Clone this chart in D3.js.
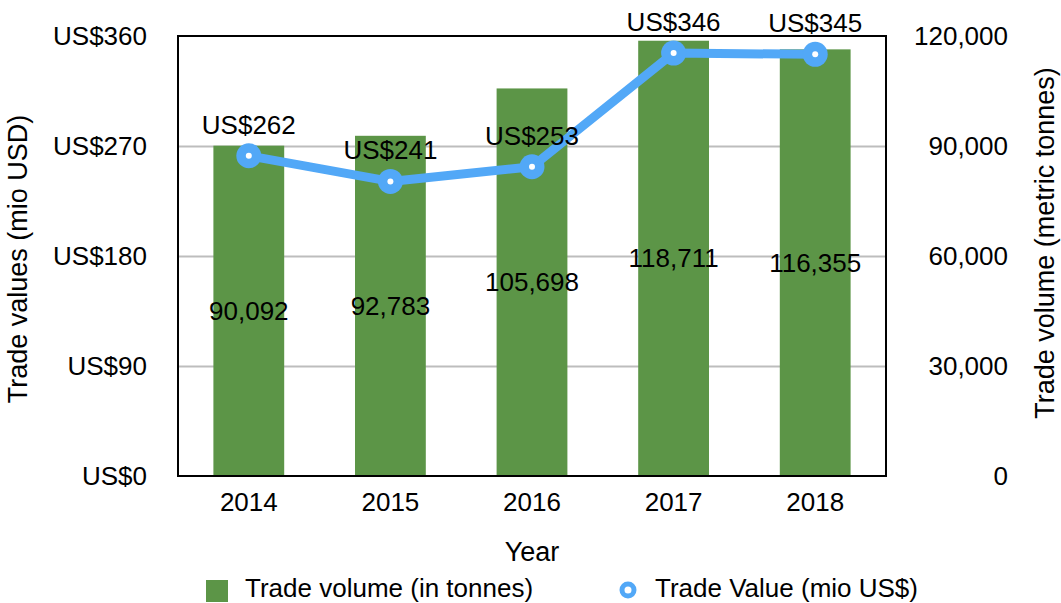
<!DOCTYPE html>
<html lang="en">
<head>
    <meta charset="UTF-8">
    <title>Trade volume and value</title>
    <script src="https://d3js.org/d3.v7.min.js"></script>
    <style>
        body {
            margin: 0;
            padding: 0;
            background: #fff;
            font-family: "Liberation Sans", Arial, Helvetica, sans-serif;
        }
        svg text {
            font-family: "Liberation Sans", Arial, Helvetica, sans-serif;
            fill: #000;
        }
    </style>
</head>
<body>
<div id="chart"></div>
<script>
    // data
    const years = ["2014", "2015", "2016", "2017", "2018"];
    const volumes = [90092, 92783, 105698, 118711, 116355];   // tonnes (bars)
    const values = [262, 241, 253, 346, 345];                  // mio US$ (line)
    const leftTicks = [0, 90, 180, 270, 360];
    const rightTicks = [0, 30000, 60000, 90000, 120000];

    const W = 1061, H = 603;
    const margin = {top: 36, right: 175, bottom: 127, left: 178};
    const plotW = W - margin.left - margin.right,
          plotH = H - margin.top - margin.bottom;

    const green = "#5c9547", blue = "#52a8f7", grid = "#bdbdbd";
    const fontSize = 26;

    const svg = d3.select("#chart").append("svg")
        .attr("width", W)
        .attr("height", H);

    const g = svg.append("g")
        .attr("transform", `translate(${margin.left},${margin.top})`);

    const x = d3.scaleBand()
        .domain(years)
        .range([0, plotW])
        .paddingInner(0.5)
        .paddingOuter(0.25);

    const yL = d3.scaleLinear().domain([0, 360]).range([plotH, 0]);
    const yR = d3.scaleLinear().domain([0, 120000]).range([plotH, 0]);

    // gridlines
    g.append("g")
        .call(d3.axisLeft(yL).tickValues(leftTicks.slice(1, -1)).tickSize(-plotW).tickFormat(""))
        .call(a => a.select(".domain").remove())
        .selectAll("line")
        .attr("stroke", grid)
        .attr("stroke-width", 2);

    // bars
    g.append("g").selectAll("rect")
        .data(volumes)
        .join("rect")
        .attr("x", (d, i) => x(years[i]))
        .attr("y", d => yR(d))
        .attr("width", x.bandwidth())
        .attr("height", d => plotH - yR(d))
        .attr("fill", green);

    // frame
    g.append("rect")
        .attr("width", plotW)
        .attr("height", plotH)
        .attr("fill", "none")
        .attr("stroke", "#000")
        .attr("stroke-width", 2);

    // left axis
    g.append("g")
        .call(d3.axisLeft(yL).tickValues(leftTicks).tickSize(0).tickPadding(31).tickFormat(d => "US$" + d))
        .call(a => a.select(".domain").remove())
        .selectAll("text")
        .style("font-size", fontSize + "px");

    // right axis, labels right aligned
    g.append("g")
        .attr("transform", `translate(${plotW},0)`)
        .call(d3.axisRight(yR).tickValues(rightTicks).tickSize(0).tickFormat(d3.format(",")))
        .call(a => a.select(".domain").remove())
        .selectAll("text")
        .attr("x", 122)
        .attr("text-anchor", "end")
        .style("font-size", fontSize + "px");

    // x axis
    g.append("g")
        .attr("transform", `translate(0,${plotH})`)
        .call(d3.axisBottom(x).tickSize(0).tickPadding(17))
        .call(a => a.select(".domain").remove())
        .selectAll("text")
        .style("font-size", fontSize + "px");

    // axis titles
    svg.append("text")
        .attr("x", margin.left + plotW / 2)
        .attr("y", 561)
        .attr("text-anchor", "middle")
        .style("font-size", "27px")
        .text("Year");

    svg.append("text")
        .attr("transform", "translate(27,259) rotate(-90)")
        .attr("text-anchor", "middle")
        .style("font-size", "27px")
        .text("Trade values (mio USD)");

    svg.append("text")
        .attr("transform", "translate(1054,243) rotate(-90)")
        .attr("text-anchor", "middle")
        .style("font-size", "27px")
        .text("Trade volume (metric tonnes)");

    // line
    const cx = i => x(years[i]) + x.bandwidth() / 2;
    const line = d3.line()
        .x((d, i) => cx(i))
        .y(d => yL(d));

    g.append("path")
        .datum(values)
        .attr("d", line)
        .attr("fill", "none")
        .attr("stroke", blue)
        .attr("stroke-width", 9)
        .attr("stroke-linejoin", "round");

    g.append("g").selectAll("circle")
        .data(values)
        .join("circle")
        .attr("cx", (d, i) => cx(i))
        .attr("cy", d => yL(d))
        .attr("r", 12.5)
        .attr("fill", blue);

    g.append("g").selectAll("circle")
        .data(values)
        .join("circle")
        .attr("cx", (d, i) => cx(i))
        .attr("cy", d => yL(d))
        .attr("r", 3)
        .attr("fill", "#fff");

    // bar labels, centred in the bar
    g.append("g").selectAll("text")
        .data(volumes)
        .join("text")
        .attr("x", (d, i) => cx(i))
        .attr("y", d => (yR(d) + plotH) / 2)
        .attr("dy", "0.35em")
        .attr("text-anchor", "middle")
        .style("font-size", fontSize + "px")
        .text(d => d3.format(",")(d));

    // value labels above the points
    g.append("g").selectAll("text")
        .data(values)
        .join("text")
        .attr("x", (d, i) => cx(i))
        .attr("y", d => yL(d) - 22)
        .attr("text-anchor", "middle")
        .style("font-size", fontSize + "px")
        .text(d => "US$" + d);

    // legend
    const legend = svg.append("g");
    legend.append("rect")
        .attr("x", 206).attr("y", 580)
        .attr("width", 22).attr("height", 22)
        .attr("fill", green);
    legend.append("text")
        .attr("x", 245).attr("y", 597)
        .style("font-size", fontSize + "px")
        .text("Trade volume (in tonnes)");
    legend.append("circle")
        .attr("cx", 628).attr("cy", 590)
        .attr("r", 6)
        .attr("fill", "#fff")
        .attr("stroke", blue)
        .attr("stroke-width", 5);
    legend.append("text")
        .attr("x", 655).attr("y", 597)
        .style("font-size", fontSize + "px")
        .text("Trade Value (mio US$)");
</script>
</body>
</html>
